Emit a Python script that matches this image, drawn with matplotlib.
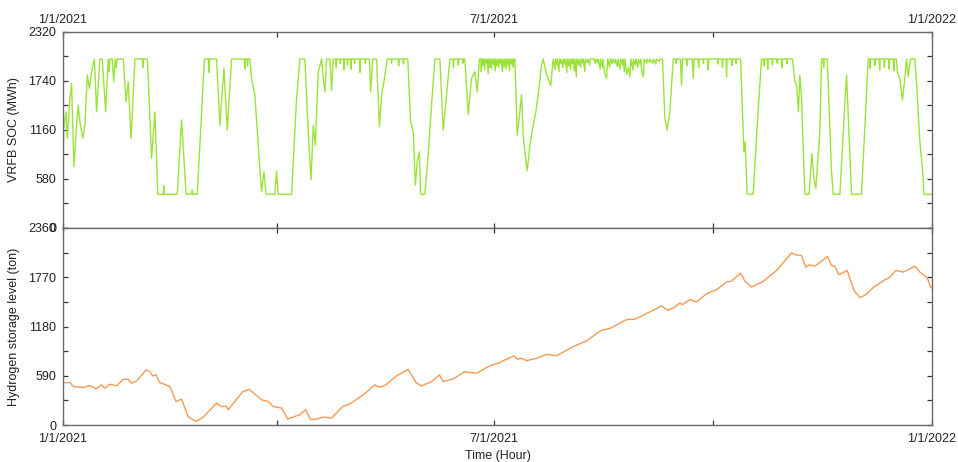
import matplotlib
matplotlib.use("Agg")
import matplotlib.pyplot as plt
from matplotlib.ticker import FixedLocator, MultipleLocator

plt.rcParams['font.family'] = ['Liberation Sans', 'DejaVu Sans']

# ---- data: (day of year 2021, VRFB SOC in MWh) ----
soc_points = [
    (0, 705), (0.3, 1180), (1.3, 1375), (1.8, 1060), (2.9, 1534), (3.6, 1710), (4.6, 725), (5.7, 1218),
    (6.4, 1455), (7.1, 1258), (8.3, 1060), (9.2, 1218), (10.2, 1810), (11.1, 1652), (12.0, 1850),
    (13.2, 2000), (14.1, 1375), (15.5, 2000), (16.5, 2000), (17.9, 1375), (19.0, 2000), (19.4, 1850),
    (19.8, 2000), (20.7, 2000), (21.3, 1730), (21.9, 2000), (22.3, 1900), (22.7, 2000), (25.3, 2000),
    (26.5, 1495), (27.4, 1730), (28.6, 1060), (30.2, 2000), (33.3, 2000), (33.5, 1900), (33.7, 2000),
    (35.4, 2000), (35.8, 1790), (37.2, 825), (38.6, 1375), (39.8, 400), (42.1, 400), (42.3, 500),
    (42.5, 400), (48.0, 400), (49.8, 1280), (51.7, 400), (54.1, 400), (54.3, 450), (54.5, 400),
    (56.4, 400), (59.4, 2000), (61.2, 2000), (61.4, 1840), (61.6, 2000), (64.5, 2000), (65.9, 1218),
    (67.6, 1890), (69.0, 1160), (70.8, 2000), (76.2, 2000), (76.4, 1880), (76.6, 2000), (77.3, 2000),
    (77.5, 1920), (77.7, 2000), (78.5, 2000), (79.2, 1770), (80.6, 1575), (82.0, 980), (83.4, 430),
    (84.4, 665), (85.3, 400), (89.0, 400), (89.7, 670), (90.4, 400), (96.0, 400), (98.1, 1534),
    (99.5, 2000), (101.6, 2000), (103.0, 1140), (104.2, 570), (105.1, 1218), (106.0, 980), (107.2, 1850),
    (108.6, 2000), (109.3, 1770), (110.0, 1613), (110.7, 2000), (112.1, 2000), (112.8, 1630), (113.5, 2000),
    (114.6, 2000), (114.8, 1900), (115.0, 2000), (116.3, 2000), (116.5, 1950), (116.7, 2000),
    (117.8, 2000), (118.0, 1870), (118.2, 2000), (119.3, 2000), (119.5, 1930), (119.7, 2000),
    (120.8, 2000), (121.0, 1880), (121.2, 2000), (122.3, 2000), (122.5, 1950), (122.7, 2000),
    (124.5, 2000), (124.7, 1840), (124.9, 2000), (126.8, 2000), (127.0, 1950), (127.2, 2000),
    (128.7, 2000), (129.2, 1613), (130.1, 2000), (131.7, 2000), (132.9, 1200), (133.8, 1575),
    (134.8, 1730), (136.2, 2000), (137.8, 2000), (138.0, 1950), (138.2, 2000), (140.8, 2000),
    (141.0, 1920), (141.2, 2000), (142.8, 2000), (143.0, 1940), (143.2, 2000),
    (144.8, 2000), (146.0, 1258), (147.1, 1140), (148.0, 510), (148.8, 785), (149.7, 900), (150.2, 400),
    (152.0, 400), (153.4, 865), (154.8, 1455), (156.2, 2000), (158.3, 2000), (159.7, 1160), (161.1, 1575),
    (162.5, 2000), (163.8, 2000), (164.0, 1900), (164.2, 2000), (165.8, 2000), (166.0, 1930),
    (166.2, 2000), (167.8, 2000), (168.0, 1950), (168.2, 2000), (168.8, 2000), (170.2, 1340),
    (171.6, 1770), (173.0, 1850), (174.0, 1613), (174.9, 2000),
    (175.5, 2000), (175.7, 1850), (175.9, 2000), (176.4, 1920), (176.6, 2000), (177.1, 1870),
    (177.3, 2000), (177.9, 1950), (178.1, 2000), (178.6, 1830), (178.8, 2000), (179.3, 1900),
    (179.5, 2000), (180.0, 1880), (180.2, 2000), (180.8, 1940), (181.0, 2000), (181.5, 1860),
    (181.7, 2000), (182.2, 1920), (182.4, 2000), (183.0, 1900), (183.2, 2000), (183.8, 1950),
    (184.0, 2000), (184.6, 1850), (184.8, 2000), (185.3, 1910), (185.5, 2000), (186.1, 1880),
    (186.3, 2000), (186.9, 1930), (187.1, 2000), (187.6, 1860), (187.8, 2000), (188.4, 1940),
    (188.6, 2000), (189.1, 1900), (189.3, 2000),
    (189.8, 2000), (190.8, 1100), (191.6, 1300), (192.6, 1575), (193.3, 1100), (194.0, 900), (195.0, 675),
    (196.1, 980), (197.5, 1218), (198.6, 1375), (199.6, 1575), (201.0, 1930), (201.7, 2000), (203.1, 1810),
    (204.9, 1690), (205.9, 2000),
    (206.6, 1870), (206.8, 2000), (207.4, 1930), (207.6, 2000), (208.3, 1850), (208.5, 2000),
    (209.1, 1950), (209.3, 2000), (210.0, 1900), (210.2, 2000), (210.8, 1940), (211.0, 2000),
    (211.6, 1840), (211.8, 2000), (212.4, 1920), (212.6, 2000), (213.2, 1880), (213.4, 2000),
    (214.0, 1950), (214.2, 2000), (214.8, 1860), (215.0, 2000), (215.6, 1790), (215.8, 2000),
    (216.5, 1930), (216.7, 2000), (217.4, 1900), (217.6, 2000), (218.3, 1950), (218.5, 2000),
    (219.2, 1850), (219.4, 2000), (220.2, 1960), (220.4, 2000), (221.2, 1930), (221.4, 2000),
    (223.0, 2000), (223.6, 1950), (223.8, 2000), (224.6, 1960), (224.8, 2000), (225.6, 1880),
    (225.8, 2000), (226.6, 1900), (226.8, 2000), (227.5, 1830), (228.3, 1770), (228.8, 2000),
    (229.6, 1900), (229.8, 2000), (230.6, 1940), (230.8, 2000), (231.8, 1950), (232.0, 2000),
    (232.9, 1910), (233.1, 2000), (234.0, 1880), (234.2, 2000), (235.0, 1930), (235.2, 2000),
    (235.8, 1850), (236.0, 2000), (236.8, 1820), (237.5, 1900), (238.1, 1790), (238.6, 2000),
    (239.4, 1870), (239.6, 2000), (240.4, 1930), (240.6, 2000), (241.4, 1900), (241.6, 2000),
    (242.4, 1940), (242.6, 2000), (243.2, 1850), (243.7, 1790), (244.2, 2000), (245.2, 1950),
    (245.4, 2000), (246.4, 1960), (246.6, 2000), (247.8, 1950), (248.0, 2000), (249.0, 1940),
    (249.2, 2000), (250.4, 1970), (250.6, 2000),
    (251.8, 2000), (252.8, 1300), (253.8, 1160), (254.9, 1375), (256.3, 2000),
    (257.3, 2000), (257.5, 1950), (257.7, 2000), (259.3, 2000), (259.8, 1690), (260.2, 2000),
    (261.8, 2000), (262.0, 1920), (262.2, 2000), (264.3, 2000), (264.7, 1770), (265.1, 2000),
    (266.8, 2000), (267.0, 1900), (267.2, 2000), (268.8, 2000), (269.0, 1950), (269.2, 2000),
    (270.8, 2000), (271.0, 1870), (271.2, 2000), (274.8, 2000), (275.0, 1940), (275.2, 2000),
    (276.8, 2000), (277.0, 1900), (277.2, 2000), (278.5, 2000), (278.7, 1790), (278.9, 2000),
    (280.8, 2000), (281.0, 1920), (281.2, 2000), (282.5, 2000), (282.7, 1950), (282.9, 2000),
    (284.6, 2000), (286.0, 900), (286.5, 1020), (287.4, 400), (289.9, 400), (291.6, 1218), (293.4, 2000),
    (294.3, 2000), (294.5, 1920), (294.7, 2000), (295.8, 2000), (296.0, 1880), (296.2, 2000),
    (297.8, 2000), (298.0, 1930), (298.2, 2000), (299.8, 2000), (300.0, 1950), (300.2, 2000),
    (301.8, 2000), (302.0, 1900), (302.2, 2000), (303.8, 2000), (304.0, 1940), (304.2, 2000),
    (306.4, 2000), (307.4, 1730), (308.1, 1700), (308.9, 1375), (309.5, 1810), (310.2, 1534),
    (311.6, 400), (313.4, 400), (314.5, 880), (315.4, 590), (316.2, 470), (317.9, 1140), (318.6, 2000),
    (319.3, 2000), (319.5, 1900), (319.7, 2000), (321.0, 2000), (322.8, 665), (323.5, 400), (326.3, 400),
    (329.1, 1810), (331.2, 400), (335.4, 400), (338.2, 2000),
    (338.8, 2000), (339.0, 1890), (339.2, 2000), (340.8, 2000), (341.0, 1920), (341.2, 2000),
    (342.8, 2000), (343.0, 1870), (343.2, 2000), (344.8, 2000), (345.0, 1900), (345.2, 2000),
    (346.8, 2000), (347.0, 1880), (347.2, 2000), (348.8, 2000), (349.0, 1860), (349.2, 2000),
    (350.0, 2000), (350.5, 1840), (351.5, 1770), (352.6, 1515), (353.6, 1770), (354.3, 2000),
    (355.0, 1790), (356.0, 2000), (357.8, 2000), (358.5, 1730), (359.9, 1020), (361.0, 705),
    (361.6, 400), (365, 400),
]

# ---- data: (day of year 2021, hydrogen storage level in ton) ----
h2_points = [
    (0, 508), (3.0, 508), (4.3, 461), (8.5, 449), (11.3, 473), (13.9, 433), (16.2, 481), (17.6, 441),
    (19.7, 489), (22.5, 469), (25.3, 548), (27.4, 548), (28.8, 501), (30.9, 528), (34.9, 659), (36.3, 645),
    (37.7, 588), (39.1, 600), (40.5, 512), (44.9, 461), (47.5, 282), (49.8, 310), (52.6, 95), (55.9, 43),
    (58.9, 95), (64.5, 262), (66.6, 222), (68.7, 222), (69.4, 183), (75.5, 400), (78.2, 429), (83.4, 302),
    (86.2, 282), (88.3, 222), (91.8, 203), (94.4, 71), (97.4, 103), (99.5, 123), (101.9, 183), (104.0, 63),
    (106.5, 71), (109.3, 95), (112.8, 83), (117.5, 222), (120.5, 254), (126.1, 361), (128.9, 429),
    (131.0, 481), (132.9, 453), (135.2, 473), (140.1, 588), (145.0, 667), (146.4, 600), (148.3, 508),
    (150.6, 469), (154.8, 520), (158.1, 600), (159.7, 520), (163.9, 552), (168.8, 640), (171.0, 628),
    (173.7, 620), (179.3, 710), (183.5, 747), (184.9, 771), (189.4, 826), (190.8, 791), (192.6, 799),
    (194.7, 771), (198.9, 799), (203.1, 846), (207.3, 830), (214.3, 938), (219.9, 1009), (226.2, 1136),
    (229.7, 1156), (236.7, 1263), (240.2, 1267), (243.7, 1315), (249.3, 1395), (251.4, 1426), (254.2, 1375),
    (257.0, 1414), (259.1, 1462), (260.2, 1442), (263.3, 1502), (266.1, 1474), (270.3, 1573), (274.5, 1621),
    (278.7, 1712), (280.8, 1724), (284.6, 1820), (286.4, 1724), (289.2, 1653), (294.1, 1720), (299.7, 1851),
    (306.0, 2062), (307.8, 2038), (310.2, 2030), (312.0, 1891), (313.4, 1919), (315.8, 1903), (321.1, 2018),
    (322.8, 1911), (324.2, 1900), (325.9, 1800), (329.4, 1851), (332.2, 1613), (334.7, 1526), (337.2, 1561),
    (340.3, 1645), (345.2, 1740), (347.0, 1764), (349.8, 1851), (352.9, 1832), (355.0, 1859), (357.8, 1903),
    (359.9, 1832), (363.0, 1764), (364.4, 1653), (365, 1640),
]

soc_day = [p[0] for p in soc_points]
soc_val = [p[1] for p in soc_points]
h2_day = [p[0] for p in h2_points]
h2_val = [p[1] for p in h2_points]

date_ticks = [0, 181, 365]
date_labels = ['1/1/2021', '7/1/2021', '1/1/2022']
quarter_ticks = [90, 273]
soc_ticks = [0, 580, 1160, 1740, 2320]
h2_ticks = [0, 590, 1180, 1770, 2360]

# ---- figure ----
fig = plt.figure(figsize=(9.58, 4.62), dpi=100)
L, R = 63 / 958, 932 / 958
ax1 = fig.add_axes([L, 1 - 228 / 462, R - L, (228 - 32) / 462])
ax2 = fig.add_axes([L, 1 - 425 / 462, R - L, (425 - 228) / 462])

spine_col = '#6a6a6a'
for ax in (ax1, ax2):
    for s in ax.spines.values():
        s.set_color(spine_col)
        s.set_linewidth(1.0)
    ax.set_xlim(0, 365)
    ax.tick_params(axis='both', which='both', direction='in', length=3.5, width=0.9,
                   colors='#333333', labelcolor='#222222', labelsize=9,
                   left=True, right=True, top=True, bottom=True)
    ax.xaxis.set_major_locator(FixedLocator(date_ticks))
    ax.xaxis.set_minor_locator(FixedLocator(quarter_ticks))

ax1.plot(soc_day, soc_val, color='#9be33a', lw=1.0)
ax1.set_ylim(0, 2320)
ax1.yaxis.set_major_locator(FixedLocator(soc_ticks))
ax1.yaxis.set_minor_locator(MultipleLocator(290))
ax1.set_ylabel('VRFB SOC (MWh)', fontsize=9, color='#222222', labelpad=6)
ax1.tick_params(axis='x', labeltop=True, labelbottom=False, pad=4.5)
ax1.set_xticklabels(date_labels)

ax2.plot(h2_day, h2_val, color='#f39a52', lw=1.0)
ax2.set_ylim(0, 2360)
ax2.yaxis.set_major_locator(FixedLocator(h2_ticks))
ax2.yaxis.set_minor_locator(MultipleLocator(295))
ax2.set_ylabel('Hydrogen storage level (ton)', fontsize=9, color='#222222', labelpad=6)
ax2.set_xticklabels(date_labels)
ax2.tick_params(axis='x', pad=6)
ax2.set_xlabel('Time (Hour)', fontsize=9, color='#222222', labelpad=3)

for ax in (ax1, ax2):
    ax.tick_params(axis='y', pad=5)

fig.savefig('out.png', dpi=100)
